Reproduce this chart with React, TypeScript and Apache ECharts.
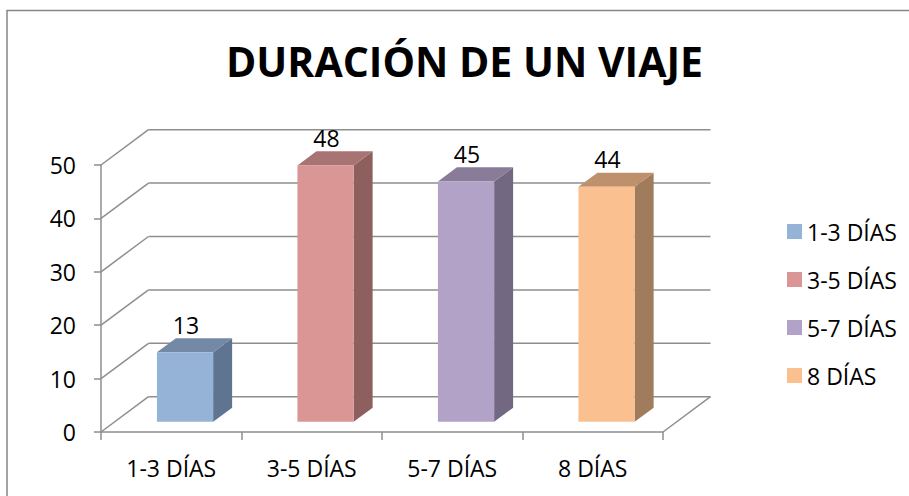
import React, { useEffect, useRef } from "react";
import * as echarts from "echarts";

const titleText = "DURACIÓN DE UN VIAJE";
const categories = ["1-3 DÍAS", "3-5 DÍAS", "5-7 DÍAS", "8 DÍAS"];
const values = [13, 48, 45, 44];
const yTicks = [0, 10, 20, 30, 40, 50];
const frontColors = ["#95B3D7", "#D99694", "#B3A2C7", "#FAC090"];
const topColors = ["#7389A6", "#A87473", "#887C99", "#BE916C"];
const sideColors = ["#5F7491", "#8D5F5E", "#726881", "#A07B5C"];

const FONT = '"Open Sans", "Noto Sans", sans-serif';
const DEPTH = [47.5, -35.3];
const FRONT_SHIFT = 0.29;
const BAR_DEPTH = 0.4;
const BAR_WIDTH = 0.4;
const GRID_COLOR = "#8E8E8E";

export default function App() {
  const ref = useRef<HTMLDivElement>(null);
  useEffect(() => {
    if (!ref.current) return;
    const chart = echarts.init(ref.current, null, { renderer: "svg" });
    const lineStyle = { stroke: GRID_COLOR, lineWidth: 1.5, fill: null };

    const wallSeries = {
      type: "custom",
      name: "walls",
      silent: true,
      clip: false,
      z: 1,
      data: yTicks.map((v) => [0, v]),
      renderItem: (params: any, api: any) => {
        const cs = params.coordSys;
        const v = api.value(1);
        const y = api.coord([0, v])[1];
        const x0 = cs.x;
        const x1 = cs.x + cs.width;
        const [dx, dy] = DEPTH;
        const children: any[] = [
          { type: "line", shape: { x1: x0, y1: y, x2: x0 + dx, y2: y + dy }, style: lineStyle },
          { type: "line", shape: { x1: x0 + dx, y1: y + dy, x2: x1 + dx, y2: y + dy }, style: lineStyle },
        ];
        if (v === 0) {
          children.push({ type: "line", shape: { x1: x1, y1: y, x2: x1 + dx, y2: y + dy }, style: lineStyle });
        }
        return { type: "group", children };
      },
    };

    const barSeries = categories.map((name, i) => ({
      type: "custom",
      name,
      clip: false,
      z: 3,
      itemStyle: { color: frontColors[i] },
      data: [[i, values[i]]],
      renderItem: (params: any, api: any) => {
        const idx = api.value(0);
        const v = api.value(1);
        const base = api.coord([idx, 0]);
        const top = api.coord([idx, v]);
        const band = api.size([1, 0])[0];
        const w = band * BAR_WIDTH;
        const fx = DEPTH[0] * FRONT_SHIFT;
        const fy = DEPTH[1] * FRONT_SHIFT;
        const dx = DEPTH[0] * BAR_DEPTH;
        const dy = DEPTH[1] * BAR_DEPTH;
        const cx = base[0] + fx;
        const x0 = cx - w / 2;
        const x1 = cx + w / 2;
        const yb = base[1] + fy;
        const yt = top[1] + fy;
        return {
          type: "group",
          children: [
            {
              type: "polygon",
              shape: { points: [[x1, yt], [x1 + dx, yt + dy], [x1 + dx, yb + dy], [x1, yb]] },
              style: { fill: sideColors[i] },
            },
            {
              type: "polygon",
              shape: { points: [[x0, yt], [x1, yt], [x1 + dx, yt + dy], [x0 + dx, yt + dy]] },
              style: { fill: topColors[i] },
            },
            {
              type: "rect",
              shape: { x: x0, y: yt, width: w, height: yb - yt },
              style: { fill: frontColors[i] },
            },
            {
              type: "text",
              style: {
                text: String(v),
                x: cx + 1,
                y: yt + dy - 2,
                align: "center",
                verticalAlign: "bottom",
                font: `23px ${FONT}`,
                fill: "#000",
              },
            },
          ],
        };
      },
    }));

    chart.setOption({
      animation: false,
      backgroundColor: "#fff",
      graphic: [
        {
          type: "rect",
          shape: { x: 7, y: 10.5, width: 1200, height: 1200 },
          style: { fill: null, stroke: "#868686", lineWidth: 1.5 },
          z: 0,
        },
        {
          type: "text",
          style: {
            text: titleText,
            x: 464.5,
            y: 61,
            align: "center",
            verticalAlign: "middle",
            font: `bold 41px ${FONT}`,
            fill: "#000",
          },
        },
      ],
      legend: {
        orient: "vertical",
        left: 782,
        top: 215,
        icon: "rect",
        itemWidth: 15,
        itemHeight: 15,
        itemGap: 25,
        data: categories,
        textStyle: { fontFamily: FONT, fontSize: 23, lineHeight: 23, color: "#000" },
      },
      grid: { left: 101, top: 165, width: 562, height: 267, containLabel: false },
      xAxis: {
        type: "category",
        data: categories,
        axisLine: { show: true, lineStyle: { color: GRID_COLOR, width: 1.5 } },
        axisTick: { show: true, length: 8, interval: 0, lineStyle: { color: GRID_COLOR, width: 1.5 } },
        axisLabel: { margin: 24, fontFamily: FONT, fontSize: 23, lineHeight: 23, color: "#000", interval: 0 },
        splitLine: { show: false },
      },
      yAxis: {
        type: "value",
        min: 0,
        max: 50,
        interval: 10,
        axisLine: { show: true, lineStyle: { color: GRID_COLOR, width: 1.5 } },
        axisTick: { show: true, length: 7, lineStyle: { color: GRID_COLOR, width: 1.5 } },
        axisLabel: { margin: 25, fontFamily: FONT, fontSize: 23, color: "#000" },
        splitLine: { show: false },
      },
      series: [wallSeries, ...barSeries],
    });
    return () => chart.dispose();
  }, []);
  return (
    <div
      ref={ref}
      style={{ position: "fixed", left: 0, top: 0, width: 909, height: 496, background: "#fff" }}
    />
  );
}
